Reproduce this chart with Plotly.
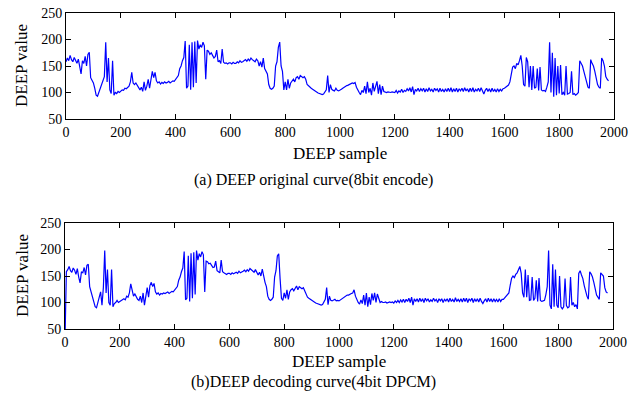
import plotly.graph_objects as go

# DEEP values, one value every 5 samples (rows of 100 samples)
step = 5
original = [
    158, 165, 160, 170, 162, 158, 166, 160, 155, 163, 150, 135, 160, 155, 168, 150, 172, 176, 128, 122,
    118, 108, 95, 93, 100, 108, 118, 125, 130, 195, 120, 165, 105, 98, 160, 95, 100, 98, 102, 100,
    103, 105, 104, 108, 107, 110, 112, 120, 138, 118, 115, 118, 113, 108, 105, 110, 102, 120, 104, 112,
    125, 108, 130, 140, 128, 138, 122, 118, 120, 116, 119, 117, 120, 118, 119, 121, 118, 120, 122, 121,
    124, 128, 132, 145, 150, 160, 166, 197, 108, 112, 190, 105, 195, 110, 196, 118, 198, 182, 190, 185,
    195, 188, 125, 180, 178, 172, 175, 170, 165, 168, 180, 158, 160, 155, 182, 157, 155, 156, 154, 156,
    156, 154, 157, 155, 155, 158, 156, 160, 157, 158, 160, 162, 159, 163, 160, 165, 162, 160, 158, 163,
    160, 150, 158, 148, 165, 145, 140, 135, 115, 108, 106, 108, 112, 150, 158, 185, 195, 150, 140, 105,
    120, 105, 125, 108, 118, 122, 125, 120, 128, 130, 125, 132, 130, 128, 130, 125, 115, 112, 110, 108,
    106, 104, 102, 100, 99, 98, 97, 96, 97, 100, 105, 132, 100, 115, 106, 104, 103, 108, 104, 103,
    104, 106, 108, 110, 111, 113, 114, 115, 116, 118, 117, 119, 110, 104, 100, 96, 104, 100, 112, 98,
    120, 100, 108, 95, 118, 102, 112, 121, 98, 115, 96, 112, 102, 101, 100, 101, 100, 100, 101, 100,
    100, 104, 99, 103, 101, 106, 100, 104, 102, 107, 103, 109, 101, 111, 96, 106, 103, 108, 102, 107,
    103, 108, 101, 107, 102, 109, 103, 106, 101, 108, 104, 107, 101, 108, 102, 106, 101, 107, 102, 108,
    102, 109, 101, 107, 102, 108, 101, 107, 103, 108, 102, 109, 103, 107, 101, 108, 102, 109, 101, 106,
    103, 108, 102, 109, 101, 97, 104, 108, 102, 107, 101, 108, 102, 106, 101, 107, 102, 106, 103, 107,
    108, 110, 112, 114, 120, 135, 148, 150, 145, 155, 152, 160, 170, 150, 115, 112, 166, 158, 110, 150,
    105, 150, 108, 110, 145, 104, 148, 105, 103, 104, 102, 110, 120, 195, 100, 175, 92, 165, 95, 150,
    98, 152, 96, 100, 95, 150, 97, 98, 100, 140, 96, 98, 95, 97, 100, 160, 155, 150, 140, 130,
    118, 110, 108, 162, 155, 150, 140, 128, 115, 110, 108, 165, 160, 150, 130, 125, 122,
]
decoded = [
    30, 158, 162, 168, 160, 157, 165, 161, 153, 164, 148, 137, 158, 156, 166, 152, 170, 172, 130, 120,
    115, 105, 92, 90, 98, 110, 120, 95, 128, 198, 118, 162, 100, 95, 162, 92, 98, 100, 104, 100,
    102, 104, 106, 107, 105, 112, 110, 118, 135, 120, 112, 116, 110, 106, 104, 112, 100, 118, 95, 110,
    128, 110, 132, 138, 130, 136, 120, 116, 118, 114, 117, 116, 118, 117, 118, 120, 117, 119, 121, 120,
    123, 126, 130, 142, 148, 158, 165, 196, 105, 108, 188, 102, 193, 108, 195, 115, 198, 180, 192, 186,
    196, 190, 120, 178, 177, 173, 174, 170, 166, 167, 178, 160, 158, 156, 180, 158, 156, 155, 153, 155,
    155, 153, 156, 154, 156, 157, 155, 159, 156, 157, 159, 161, 158, 162, 159, 164, 161, 159, 157, 162,
    158, 152, 157, 150, 163, 146, 138, 130, 112, 106, 104, 106, 110, 148, 160, 188, 192, 145, 108, 104,
    118, 108, 124, 106, 120, 124, 126, 122, 127, 131, 124, 130, 128, 126, 128, 122, 114, 110, 108, 106,
    105, 103, 101, 99, 98, 97, 96, 95, 96, 100, 106, 128, 96, 112, 104, 103, 104, 106, 103, 104,
    103, 105, 107, 109, 110, 112, 114, 114, 116, 117, 118, 124, 112, 105, 100, 97, 105, 98, 114, 95,
    118, 92, 110, 96, 117, 104, 118, 100, 116, 108, 100, 102, 100, 100, 101, 99, 100, 101, 100, 101,
    99, 103, 100, 104, 100, 105, 101, 106, 100, 106, 102, 108, 100, 110, 95, 107, 102, 107, 101, 108,
    102, 107, 100, 108, 103, 107, 101, 105, 102, 108, 103, 106, 100, 107, 103, 107, 100, 106, 103, 107,
    101, 108, 102, 106, 101, 109, 102, 106, 102, 107, 101, 108, 102, 108, 100, 107, 103, 108, 100, 107,
    102, 107, 101, 108, 102, 98, 103, 107, 101, 108, 102, 107, 101, 107, 102, 106, 101, 107, 102, 106,
    106, 109, 111, 113, 118, 133, 146, 150, 147, 153, 156, 162, 168, 155, 118, 110, 162, 110, 152, 104,
    105, 148, 104, 108, 142, 102, 146, 104, 102, 103, 104, 115, 130, 198, 95, 88, 172, 92, 162, 95,
    90, 150, 92, 88, 92, 145, 94, 90, 92, 148, 95, 100, 92, 96, 88, 155, 160, 152, 145, 132,
    120, 112, 106, 158, 154, 148, 138, 125, 114, 110, 106, 156, 152, 150, 128, 120, 118,
]
x_ticks = [0, 200, 400, 600, 800, 1000, 1200, 1400, 1600, 1800, 2000]
y_ticks = [50, 100, 150, 200, 250]
captions = ["(a) DEEP original curve(8bit encode)", "(b)DEEP decoding curve(4bit DPCM)"]
x_title = "DEEP sample"
y_title = "DEEP value"

samples_o = [i * step for i in range(len(original))]
samples_d = [i * step for i in range(len(decoded))]

W, H = 640, 396
FONT = "Liberation Serif, Times New Roman, serif"


def py(p):
    return 1 - p / H


def px(p):
    return p / W


fig = go.Figure()
fig.add_trace(go.Scatter(x=samples_o, y=original, mode="lines",
                         line=dict(color="#0000ff", width=1.2), xaxis="x", yaxis="y",
                         showlegend=False))
fig.add_trace(go.Scatter(x=samples_d, y=decoded, mode="lines",
                         line=dict(color="#0000ff", width=1.2), xaxis="x2", yaxis="y2",
                         showlegend=False))

axis_common = dict(showgrid=False, zeroline=False, showline=True, linecolor="black",
                   linewidth=1, mirror="ticks", ticks="inside", ticklen=5, automargin=False,
                   tickcolor="black", tickfont=dict(family=FONT, size=14, color="black"))

fig.update_layout(
    width=W, height=H, margin=dict(l=0, r=0, t=0, b=0),
    paper_bgcolor="white", plot_bgcolor="white",
    xaxis=dict(domain=[px(66), px(614)], range=[0, 2000], tickvals=x_ticks, anchor="y", **axis_common),
    yaxis=dict(domain=[py(119), py(13)], range=[50, 250], tickvals=y_ticks, anchor="x", **axis_common),
    xaxis2=dict(domain=[px(65), px(613)], range=[0, 2000], tickvals=x_ticks, anchor="y2", **axis_common),
    yaxis2=dict(domain=[py(329), py(223)], range=[50, 250], tickvals=y_ticks, anchor="x2", **axis_common),
)

ann = []
for (xc, yc, txt, rot) in [
    (340, 154, x_title, 0), (313, 180, captions[0], 0),
    (339, 361, x_title, 0), (313, 382, captions[1], 0),
    (22, 66, y_title, -90), (22, 276, y_title, -90),
]:
    ann.append(dict(x=px(xc), y=py(yc), xref="paper", yref="paper", text=txt,
                    showarrow=False, textangle=rot, xanchor="center", yanchor="middle",
                    font=dict(family=FONT, size=17 if "(" not in txt else 16, color="black")))
fig.update_layout(annotations=ann)

fig.write_html("out.html")
